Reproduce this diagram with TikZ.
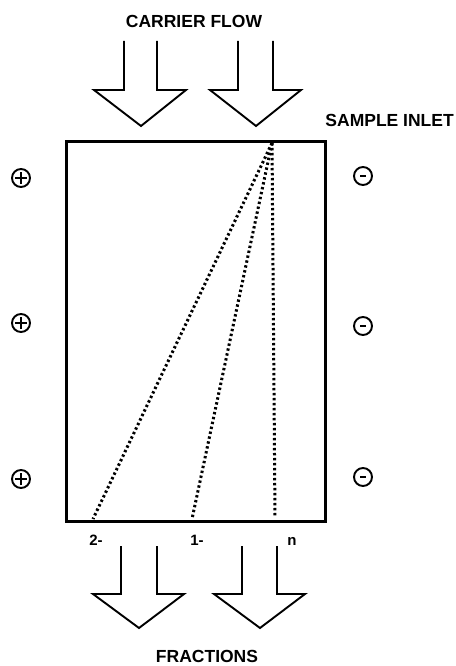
\documentclass[tikz,border=0pt]{standalone}
\usepackage{fontspec}
\setmainfont{Liberation Sans}
\begin{document}
\begin{tikzpicture}[x=1pt,y=-1pt,
  lbl/.style={inner sep=0pt,font=\fontsize{17.5}{20}\selectfont\bfseries},
  small/.style={inner sep=0pt,font=\fontsize{15}{17}\selectfont\bfseries},
  flowarrow/.style={line width=1.9pt,line join=miter},
  frame/.style={line width=3pt},
  path/.style={line width=3pt,dash pattern=on 2.4pt off 2.6pt},
  pole/.style={circle,draw,line width=1.9pt,minimum size=18pt,inner sep=0pt}]
\useasboundingbox (0,0) rectangle (455,666);
% frame
\draw[frame] (66,141) rectangle (325,521);
% top arrows
\draw[flowarrow] (124,41) -- (124,90) -- (94,90) -- (141,126) -- (186,90) -- (157,90) -- (157,41);
\draw[flowarrow] (238,41) -- (238,90) -- (210,90) -- (256,126) -- (301,90) -- (273,90) -- (273,41);
% bottom arrows
\draw[flowarrow] (121,546) -- (121,594) -- (93,594) -- (139,628) -- (184,594) -- (157,594) -- (157,546);
\draw[flowarrow] (242,546) -- (242,594) -- (214,594) -- (260,628) -- (305,594) -- (277,594) -- (277,546);
% texts
\node[lbl] (carrier) at (194,21) {CARRIER FLOW};
\node[lbl,anchor=east] (inlet) at (454,120) {SAMPLE INLET};
\node[lbl] (fractions) at (207,656) {FRACTIONS};
\node[small] (l2) at (96,540) {2-};
\node[small] (l1) at (197,540) {1-};
\node[small] (ln) at (292,541) {n};
% dotted paths
\coordinate (src) at (272,143);
\coordinate (b2) at (93,519);
\coordinate (b1) at (192,519);
\coordinate (bn) at (275,517);
\draw[path] (src) -- (b2);
\draw[path] (src) -- (b1);
\draw[path] (src) -- (bn);
% poles
\foreach \i/\y in {1/178,2/323,3/479}{
  \node[pole] (p\i) at (21,\y) {};
  \draw[line width=1.9pt] ([xshift=-6pt]p\i.center) -- ([xshift=6pt]p\i.center)
    ([yshift=-6pt]p\i.center) -- ([yshift=6pt]p\i.center);
}
\foreach \i/\y in {1/176,2/326,3/477}{
  \node[pole] (m\i) at (363,\y) {};
  \draw[line width=2.6pt] ([xshift=-3pt]m\i.center) -- ([xshift=3pt]m\i.center);
}
\end{tikzpicture}
\end{document}
